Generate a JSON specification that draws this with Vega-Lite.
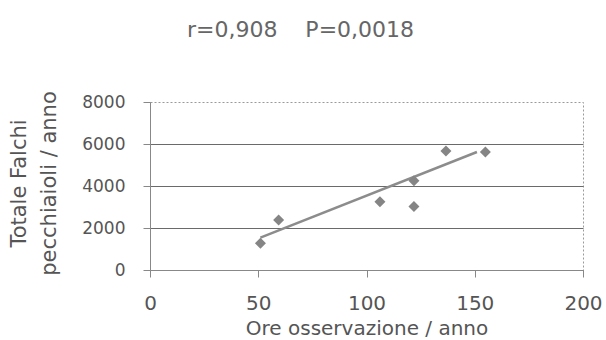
{
  "$schema": "https://vega.github.io/schema/vega-lite/v6.json",
  "width": 433,
  "height": 168,
  "autosize": {"type": "none"},
  "padding": {"left": 150, "top": 102, "right": 23, "bottom": 70},
  "background": "white",
  "title": {
    "text": "r=0,908\u00a0\u00a0\u00a0\u00a0P=0,0018",
    "font": "DejaVu Sans",
    "fontSize": 22,
    "fontWeight": "normal",
    "color": "#666666",
    "anchor": "middle",
    "dx": -66,
    "offset": 49
  },
  "config": {
    "view": {"stroke": "#9a9a9a", "strokeDash": [2, 2], "strokeWidth": 1},
    "axis": {
      "labelFont": "DejaVu Sans",
      "titleFont": "DejaVu Sans",
      "labelColor": "#555555",
      "titleColor": "#555555",
      "titleFontWeight": "normal",
      "domainColor": "#888888",
      "tickColor": "#888888",
      "tickSize": 7
    }
  },
  "layer": [
    {
      "data": {"values": [
        {"ore": 51, "falchi": 1540},
        {"ore": 151, "falchi": 5620}
      ]},
      "mark": {"type": "line", "color": "#8c8c8c", "strokeWidth": 2.5},
      "encoding": {
        "x": {"field": "ore", "type": "quantitative"},
        "y": {"field": "falchi", "type": "quantitative"}
      }
    },
    {
      "data": {"values": [
        {"ore": 51, "falchi": 1270},
        {"ore": 59.4, "falchi": 2380},
        {"ore": 106.2, "falchi": 3250},
        {"ore": 121.9, "falchi": 4250},
        {"ore": 121.9, "falchi": 3020},
        {"ore": 136.7, "falchi": 5670},
        {"ore": 154.9, "falchi": 5620}
      ]},
      "mark": {"type": "point", "shape": "diamond", "filled": true, "size": 121, "color": "#858585", "opacity": 1},
      "encoding": {
        "x": {
          "field": "ore",
          "type": "quantitative",
          "scale": {"domain": [0, 200], "nice": false},
          "axis": {
            "title": "Ore osservazione / anno",
            "titleFontSize": 20,
            "labelFontSize": 20,
            "values": [0, 50, 100, 150, 200],
            "grid": false,
            "labelFlush": false,
            "labelPadding": 16,
            "titlePadding": 5
          }
        },
        "y": {
          "field": "falchi",
          "type": "quantitative",
          "scale": {"domain": [0, 8000], "nice": false},
          "axis": {
            "title": ["Totale Falchi", "pecchiaioli / anno"],
            "titleFontSize": 21,
            "titleLineHeight": 30,
            "labelFontSize": 17,
            "format": "d",
            "values": [0, 2000, 4000, 6000, 8000],
            "grid": true,
            "gridColor": "#6a6a6a",
            "gridOpacity": {"condition": {"test": "datum.value === 8000", "value": 0}, "value": 1},
            "labelPadding": 18,
            "titlePadding": 22,
            "titleY": 81
          }
        }
      }
    }
  ]
}
